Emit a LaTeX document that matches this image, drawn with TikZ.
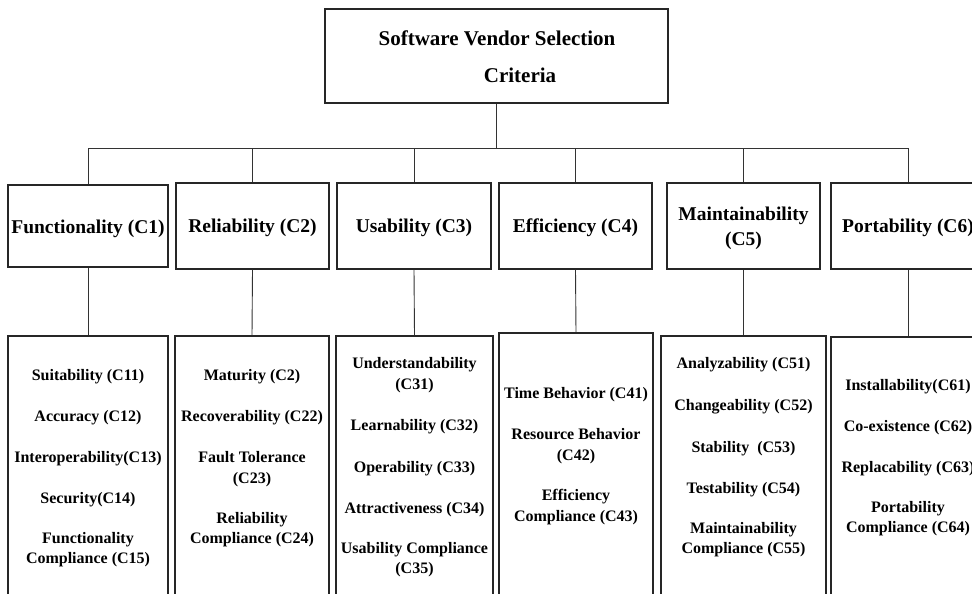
\documentclass[tikz,border=0pt]{standalone}
\usepackage{fontspec}
\setmainfont{Liberation Serif}
\begin{document}
\begin{tikzpicture}[x=1pt,y=-1pt,
  box/.style={draw=black!85, line width=1.1pt, inner sep=0pt},
  wire/.style={draw=black!80, line width=0.9pt},
  toptext/.style={font=\bfseries\fontsize{21pt}{25pt}\selectfont, anchor=base, inner sep=0pt},
  midtext/.style={font=\bfseries\fontsize{19.5pt}{24pt}\selectfont, anchor=base, inner sep=0pt},
  subtext/.style={font=\bfseries\fontsize{16pt}{20pt}\selectfont, anchor=base, inner sep=0pt}]
\useasboundingbox (0,0) rectangle (972,594);
\clip (0,0) rectangle (972,594);

% root
\node[box, minimum width=343pt, minimum height=94pt] (root) at (496.5,56) {};
\node[toptext] (rootA) at (497,46) {Software Vendor Selection};
\node[toptext] (rootB) at (520,83) {Criteria};

% main criteria
\node[box, minimum width=160pt, minimum height=82pt] (c1) at (88,226) {};
\node[box, minimum width=153pt, minimum height=86pt] (c2) at (252.5,226) {};
\node[box, minimum width=154pt, minimum height=86pt] (c3) at (414,226) {};
\node[box, minimum width=153pt, minimum height=86pt] (c4) at (575.5,226) {};
\node[box, minimum width=153pt, minimum height=86pt] (c5) at (743.5,226) {};
\node[box, minimum width=154pt, minimum height=86pt] (c6) at (908,226) {};

\node[midtext] (l1) at (88,233) {Functionality (C1)};
\node[midtext] (l2) at (252.5,232) {Reliability (C2)};
\node[midtext] (l3) at (414,232) {Usability (C3)};
\node[midtext] (l4) at (575.5,232) {Efficiency (C4)};
\node[midtext] (l5a) at (743.5,220) {Maintainability};
\node[midtext] (l5b) at (743.5,245) {(C5)};
\node[midtext] (l6) at (908,232) {Portability (C6)};

% sub-criteria panels
\node[box, minimum width=160pt, minimum height=284pt] (s1) at (88,478) {};
\node[box, minimum width=154pt, minimum height=284pt] (s2) at (252,478) {};
\node[box, minimum width=157pt, minimum height=284pt] (s3) at (414.5,478) {};
\node[box, minimum width=154pt, minimum height=287pt] (s4) at (576,476.5) {};
\node[box, minimum width=165pt, minimum height=284pt] (s5) at (743.5,478) {};
\node[box, minimum width=154pt, minimum height=283pt] (s6) at (908,478.5) {};

\foreach \t/\yy [count=\k] in {{Suitability (C11)}/380, {Accuracy (C12)}/421,
    {Interoperability(C13)}/462, {Security(C14)}/503, {Functionality}/543,
    {Compliance (C15)}/563}
  \node[subtext] (a\k) at (88,\yy) {\t};

\foreach \t/\yy [count=\k] in {{Maturity (C2)}/380, {Recoverability (C22)}/421,
    {Fault Tolerance}/462, {(C23)}/483, {Reliability}/523, {Compliance (C24)}/543}
  \node[subtext] (b\k) at (252,\yy) {\t};

\foreach \t/\yy [count=\k] in {{Understandability}/368, {(C31)}/389,
    {Learnability (C32)}/430, {Operability (C33)}/472, {Attractiveness (C34)}/513,
    {Usability Compliance}/553, {(C35)}/573}
  \node[subtext] (u\k) at (414.5,\yy) {\t};

\foreach \t/\yy [count=\k] in {{Time Behavior (C41)}/398, {Resource Behavior}/439,
    {(C42)}/460, {Efficiency}/500, {Compliance (C43)}/521}
  \node[subtext] (e\k) at (576,\yy) {\t};

\foreach \t/\yy [count=\k] in {{Analyzability (C51)}/368, {Changeability (C52)}/410,
    {Stability~ (C53)}/452, {Testability (C54)}/493, {Maintainability}/533,
    {Compliance (C55)}/553}
  \node[subtext] (m\k) at (743.5,\yy) {\t};

\foreach \t/\yy [count=\k] in {{Installability(C61)}/390, {Co-existence (C62)}/431,
    {Replacability (C63)}/472, {Portability}/512, {Compliance (C64)}/532}
  \node[subtext] (p\k) at (908,\yy) {\t};

% connectors
\coordinate (hub) at (496.5,148);
\draw[wire] (root.south) -- (hub);
\draw[wire] (c1.north) |- (hub);
\draw[wire] (c6.north) |- (hub);
\foreach \n in {c2,c3,c4,c5}
  \draw[wire] (\n.north) -- (\n.north |- hub);
\foreach \i in {1,...,6}
  \draw[wire] (c\i.south) -- (s\i.north);
\end{tikzpicture}
\end{document}
